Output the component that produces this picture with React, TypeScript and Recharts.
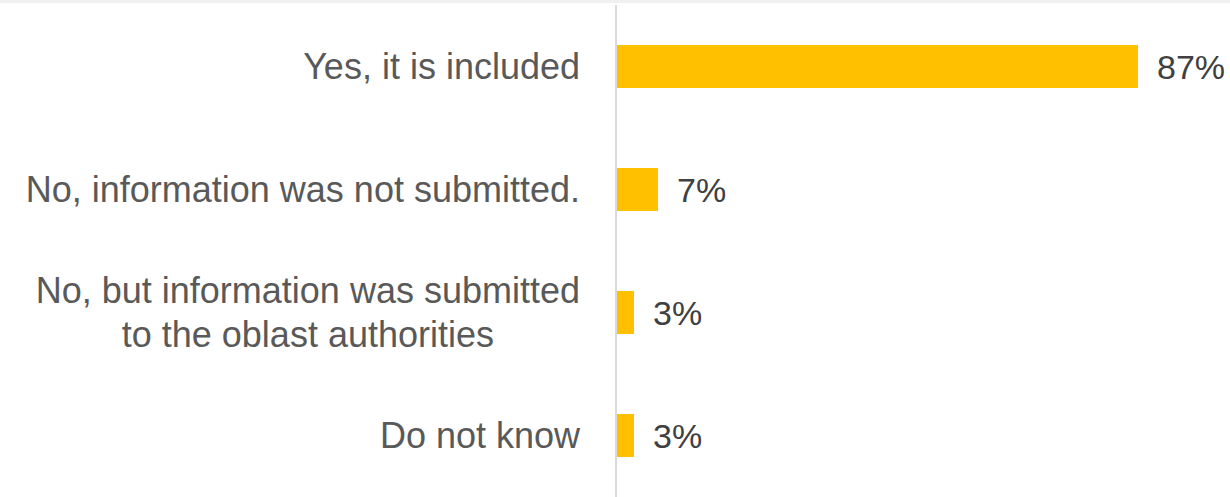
import React from "react";
import { BarChart, Bar, XAxis, YAxis, LabelList } from "recharts";

const categories = [
  "Yes, it is included",
  "No, information was not submitted.",
  "No, but information was submitted\nto the oblast authorities",
  "Do not know",
];
const values = [87, 7, 3, 3];

const data = categories.map((c, i) => ({ name: c, value: values[i] }));

const LABEL_FONT = "'Liberation Sans', Arial, sans-serif";
const LABEL_SIZE = 36;

let ctx: CanvasRenderingContext2D | null = null;
function measure(t: string) {
  if (!ctx) {
    const c = document.createElement("canvas");
    ctx = c.getContext("2d");
  }
  if (!ctx) return t.length * LABEL_SIZE * 0.5;
  ctx.font = `${LABEL_SIZE}px ${LABEL_FONT}`;
  return ctx.measureText(t).width;
}

const CategoryTick = (props: any) => {
  const { x, y, payload } = props;
  const lines: string[] = String(payload.value).split("\n");
  if (lines.length === 1) {
    return (
      <text x={x} y={y} dy="0.35em" textAnchor="end" fill="#595959" fontSize={LABEL_SIZE} fontFamily={LABEL_FONT}>
        {lines[0]}
      </text>
    );
  }
  const maxW = Math.max(...lines.map(measure));
  const cx = x - maxW / 2;
  const lh = 44;
  const start = y - ((lines.length - 1) * lh) / 2;
  return (
    <text textAnchor="middle" fill="#595959" fontSize={LABEL_SIZE} fontFamily={LABEL_FONT}>
      {lines.map((l, i) => (
        <tspan key={i} x={cx} y={start + i * lh} dy="0.35em">
          {l}
        </tspan>
      ))}
    </text>
  );
};

export default function App() {
  return (
    <div style={{ position: "absolute", left: 0, top: 0, width: 1230, height: 497, background: "#fff" }}>
      <div style={{ position: "absolute", left: 0, top: 0, width: 1230, height: 3, background: "#f0f0f0" }} />
      <BarChart
        width={1230}
        height={497}
        data={data}
        layout="vertical"
        margin={{ top: 5, right: 14, bottom: 0, left: 0 }}
      >
        <XAxis type="number" domain={[0, 100]} hide />
        <YAxis
          type="category"
          dataKey="name"
          width={616}
          tickLine={false}
          tickSize={0}
          tickMargin={36}
          axisLine={{ stroke: "#d9d9d9", strokeWidth: 2 }}
          tick={<CategoryTick />}
          interval={0}
        />
        <Bar dataKey="value" fill="#ffc000" barSize={43} isAnimationActive={false}>
          <LabelList
            dataKey="value"
            position="right"
            offset={19}
            formatter={(v: any) => `${v}%`}
            fill="#404040"
            fontSize={34}
            fontFamily={LABEL_FONT}
          />
        </Bar>
      </BarChart>
    </div>
  );
}
